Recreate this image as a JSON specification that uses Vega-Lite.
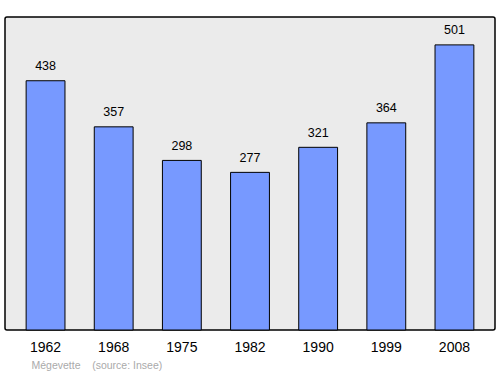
{
  "$schema": "https://vega.github.io/schema/vega-lite/v6.json",
  "width": 490,
  "height": 313,
  "autosize": {"type": "none"},
  "padding": {"left": 5, "top": 17, "right": 5, "bottom": 44},
  "background": "#ffffff",
  "config": {
    "view": {"fill": "#ebebeb", "stroke": "#000000", "strokeWidth": 1.5, "cornerRadius": 2},
    "font": "Liberation Sans"
  },
  "data": {
    "values": [
      {"year": "1962", "pop": 438},
      {"year": "1968", "pop": 357},
      {"year": "1975", "pop": 298},
      {"year": "1982", "pop": 277},
      {"year": "1990", "pop": 321},
      {"year": "1999", "pop": 364},
      {"year": "2008", "pop": 501}
    ]
  },
  "encoding": {
    "x": {
      "field": "year",
      "type": "nominal",
      "sort": null,
      "scale": {"paddingInner": 0.43, "paddingOuter": 0.31},
      "axis": {
        "domain": false,
        "ticks": false,
        "labelAngle": 0,
        "labelFontSize": 14,
        "labelColor": "#000000",
        "labelPadding": 10,
        "title": "Mégevette\u00a0\u00a0\u00a0\u00a0(source: Insee)",
        "titleFontSize": 10.5,
        "titleFontWeight": "normal",
        "titleColor": "#aaaaaa",
        "titleAnchor": "start",
        "titleAlign": "left",
        "titleX": 26,
        "titlePadding": 6
      }
    },
    "y": {
      "field": "pop",
      "type": "quantitative",
      "scale": {"domain": [0, 550], "nice": false},
      "axis": null
    }
  },
  "layer": [
    {
      "mark": {"type": "bar", "color": "#7799ff", "stroke": "#000000", "strokeWidth": 1}
    },
    {
      "mark": {"type": "text", "baseline": "bottom", "dy": -7.5, "fontSize": 12.5, "color": "#000000"},
      "encoding": {"text": {"field": "pop", "type": "quantitative"}}
    }
  ]
}
